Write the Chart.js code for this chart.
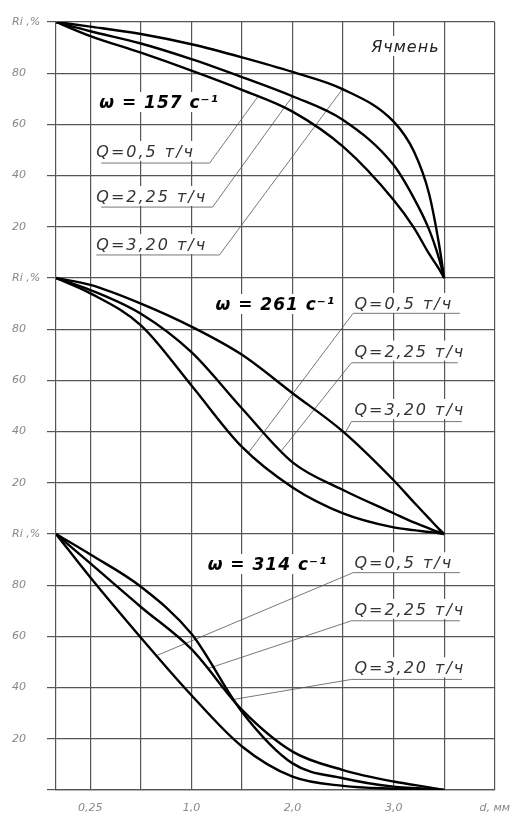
<!DOCTYPE html>
<html>
<head>
<meta charset="utf-8">
<script src="https://cdn.jsdelivr.net/npm/chart.js@4"></script>
<style>
  html, body { margin: 0; padding: 0; background: #fff; }
  #wrap { width: 522px; height: 816px; }
</style>
</head>
<body>
<div id="wrap"><canvas id="chart"></canvas></div>
<script>
// positions along d, in grid steps (0 = 0,25 mm ... 7 = 3,5 mm), left edge at -0.68
const xPos = [-0.68, 0, 1, 2, 3, 4, 5, 6, 6.4, 6.7, 6.9, 7];
const xLabels = ['0,25', '', '1,0', '', '2,0', '', '3,0', '', 'd, мм'];
const seriesNames = ['Q=0,5 т/ч', 'Q=2,25 т/ч', 'Q=3,20 т/ч'];
const panelTitles = ['ω = 157 с⁻¹', 'ω = 261 с⁻¹', 'ω = 314 с⁻¹'];
const panelOffsets = [200, 100, 0];

// Ri, % — ω = 157 c-1
const w157_q05  = [100, 94.5, 88, 81, 73.5, 65, 51.3, 30.5, 19.7, 9.5, 3.5, 0];
const w157_q225 = [100, 96.4, 91.6, 85.5, 78.5, 71, 61.7, 44.1, 31.2, 19, 7.5, 0];
const w157_q320 = [100, 98.2, 95.3, 91.3, 86.2, 80.5, 73.7, 61.1, 49.5, 33, 13, 0];
// ω = 261 c-1
const w261_q05  = [100, 94, 81.5, 58, 34, 18.2, 8.1, 2.6, 1.5, 0.8, 0.3, 0];
const w261_q225 = [100, 95.3, 86, 71, 49, 28, 17.2, 8.1, 4.5, 2.2, 0.7, 0];
const w261_q320 = [100, 97.3, 90, 81, 70, 55, 40, 21, 12.4, 6.1, 1.9, 0];
// ω = 314 c-1
const w314_q05  = [100, 83, 59.5, 37, 17, 5.2, 1.6, 0.5, 0.3, 0.15, 0.05, 0];
const w314_q225 = [100, 88.5, 71.5, 55, 31.3, 15, 7.8, 3.3, 2, 1, 0.3, 0];
const w314_q320 = [100, 92, 79.4, 61, 30.5, 10.4, 4.6, 1.3, 0.8, 0.4, 0.1, 0];

const panels = [
  [w157_q05, w157_q225, w157_q320],
  [w261_q05, w261_q225, w261_q320],
  [w314_q05, w314_q225, w314_q320]
];

// leader lines from the labels to the curves, [x, y] in chart units
const leaders = [
  [[0.214, 244.9], [2.359, 244.9], [3.314, 270.8]],
  [[0.214, 227.7], [2.417, 227.7], [4.0, 271]],
  [[0.117, 209.0], [2.554, 209.0], [4.984, 273.7]],
  [[7.310, 186.2], [5.199, 186.2], [3.133, 131.9]],
  [[7.271, 166.9], [5.166, 166.9], [3.782, 132.6]],
  [[7.349, 143.9], [5.166, 143.9], [5.035, 139.3]],
  [[7.310, 84.9], [5.199, 84.9], [1.312, 52.5]],
  [[7.310, 66.1], [5.166, 66.1], [2.320, 47.4]],
  [[7.349, 43.2], [5.166, 43.2], [2.840, 35.4]]
];

const qFont = 'italic 16px "DejaVu Sans"';
const wFont = 'italic bold 17px "DejaVu Sans"';
const notes = [
  { text: panelTitles[0], x: 0.175, y: 266.4, font: wFont, color: '#000', sp: '1px' },
  { text: 'Ячмень', x: 5.556, y: 288.3, font: 'italic 16px "DejaVu Sans"', color: '#222', sp: '1px' },
  { text: seriesNames[0], x: 0.117, y: 247.3, font: qFont, color: '#333', sp: '2px' },
  { text: seriesNames[1], x: 0.117, y: 229.7, font: qFont, color: '#333', sp: '2px' },
  { text: seriesNames[2], x: 0.117, y: 210.9, font: qFont, color: '#333', sp: '2px' },
  { text: panelTitles[1], x: 2.476, y: 187.5, font: wFont, color: '#000', sp: '1px' },
  { text: seriesNames[0], x: 5.224, y: 187.9, font: qFont, color: '#333', sp: '2px' },
  { text: seriesNames[1], x: 5.224, y: 169.3, font: qFont, color: '#333', sp: '2px' },
  { text: seriesNames[2], x: 5.224, y: 146.5, font: qFont, color: '#333', sp: '2px' },
  { text: panelTitles[2], x: 2.320, y: 85.9, font: wFont, color: '#000', sp: '1px' },
  { text: seriesNames[0], x: 5.224, y: 86.6, font: qFont, color: '#333', sp: '2px' },
  { text: seriesNames[1], x: 5.224, y: 68.4, font: qFont, color: '#333', sp: '2px' },
  { text: seriesNames[2], x: 5.224, y: 45.6, font: qFont, color: '#333', sp: '2px' }
];

const datasets = [];
panels.forEach((series, p) => {
  series.forEach((vals, s) => {
    datasets.push({
      label: panelTitles[p] + ' ' + seriesNames[s],
      data: vals.map((v, i) => ({ x: xPos[i], y: v + panelOffsets[p] })),
      borderColor: '#000',
      borderWidth: 2.4,
      pointRadius: 0,
      cubicInterpolationMode: 'monotone',
      fill: false
    });
  });
});
leaders.forEach(pts => {
  datasets.push({
    label: 'leader',
    data: pts.map(p => ({ x: p[0], y: p[1] })),
    borderColor: '#555',
    borderWidth: 0.8,
    pointRadius: 0,
    tension: 0,
    fill: false
  });
});

function setFont(ctx, n) {
  ctx.font = n.font;
  ctx.letterSpacing = n.sp;
}

const notesPlugin = {
  id: 'notes',
  beforeDatasetsDraw(chart) {
    const ctx = chart.ctx;
    const xs = chart.scales.x, ys = chart.scales.y;
    ctx.save();
    notes.forEach(n => {
      setFont(ctx, n);
      const w = ctx.measureText(n.text).width;
      const px = xs.getPixelForValue(n.x), py = ys.getPixelForValue(n.y);
      ctx.fillStyle = '#fff';
      ctx.fillRect(px - 2, py - 16, w + 4, 20);
    });
    ctx.restore();
  },
  afterDatasetsDraw(chart) {
    const ctx = chart.ctx;
    const xs = chart.scales.x, ys = chart.scales.y;
    ctx.save();
    ctx.textBaseline = 'alphabetic';
    ctx.textAlign = 'left';
    notes.forEach(n => {
      setFont(ctx, n);
      ctx.fillStyle = n.color;
      ctx.fillText(n.text, xs.getPixelForValue(n.x), ys.getPixelForValue(n.y));
    });
    ctx.restore();
  }
};

new Chart(document.getElementById('chart'), {
  type: 'line',
  data: { datasets },
  options: {
    responsive: true,
    maintainAspectRatio: false,
    animation: false,
    layout: { padding: { left: 12, right: 20, top: 22, bottom: 0 } },
    plugins: { legend: { display: false }, tooltip: { enabled: false } },
    scales: {
      x: {
        type: 'linear',
        min: -0.68,
        max: 8,
        afterBuildTicks: axis => { axis.ticks = xLabels.map((l, i) => ({ value: i })); },
        afterFit: axis => { axis.height = 26; },
        ticks: {
          autoSkip: false,
          maxRotation: 0,
          padding: 12,
          color: '#888',
          font: { family: 'DejaVu Sans', size: 11, style: 'italic' },
          callback: v => xLabels[v] || ''
        },
        grid: { color: '#555', lineWidth: 1.2, drawTicks: false },
        border: { color: '#555', width: 1.2 }
      },
      y: {
        min: 0,
        max: 300,
        afterBuildTicks: axis => {
          const t = [];
          for (let v = 0; v <= 300; v += 20) t.push({ value: v });
          axis.ticks = t;
        },
        afterFit: axis => { axis.width = 44; },
        ticks: {
          crossAlign: 'far',
          padding: 4,
          color: '#888',
          font: { family: 'DejaVu Sans', size: 11, style: 'italic' },
          callback: v => v === 0 ? '' : (v % 100 === 0 ? 'Ri ,%' : String(v % 100))
        },
        grid: { color: '#555', lineWidth: 1.2, tickLength: 9 },
        border: { color: '#555', width: 1.2 }
      }
    }
  },
  plugins: [notesPlugin]
});
</script>
</body>
</html>
